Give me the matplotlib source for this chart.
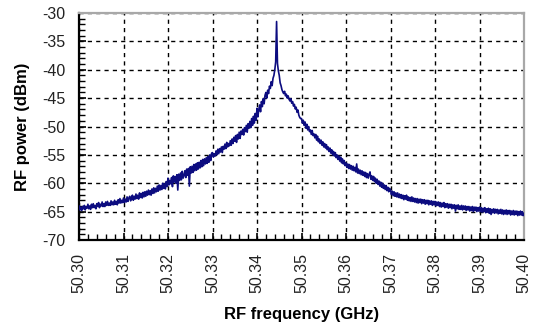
#!/usr/bin/env python3
"""RF spectrum around 50.344 GHz, redrawn from a screenshot."""
import numpy as np
import matplotlib
matplotlib.use('Agg')
import matplotlib.pyplot as plt
from matplotlib.ticker import MultipleLocator, FormatStrFormatter

plt.rcParams['font.family'] = ['Liberation Sans', 'DejaVu Sans']
plt.rcParams['axes.unicode_minus'] = False

# sweep: 50.300 .. 50.400 GHz, one point every 0.2 MHz
f_start = 50.300
f_step = 0.0002

# RF power (dBm), one list per 10 MHz (50 points each)
p_5030 = [-64.0, -64.7, -64.2, -64.8, -64.1, -64.5, -63.9, -64.7, -64.1, -64.4,
          -63.7, -64.5, -64.0, -64.6, -63.7, -64.3, -63.6, -64.3, -63.9, -64.5,
          -63.6, -64.1, -63.4, -64.3, -63.7, -64.0, -63.3, -64.1, -63.6, -64.1,
          -63.3, -63.9, -63.2, -63.9, -63.5, -63.9, -63.1, -63.8, -63.3, -63.8,
          -63.0, -63.7, -63.2, -63.8, -62.9, -63.5, -62.7, -63.5, -63.0, -63.4]
p_5031 = [-62.6, -63.4, -62.8, -63.3, -62.4, -63.2, -62.6, -62.3, -63.1, -62.5,
          -62.1, -63.0, -62.3, -62.8, -61.9, -62.7, -62.1, -62.8, -61.7, -62.5,
          -61.8, -62.6, -61.6, -62.4, -61.5, -62.3, -61.4, -62.1, -61.2, -62.0,
          -61.3, -62.1, -61.0, -61.8, -60.8, -61.7, -60.9, -61.5, -60.5, -61.4,
          -60.3, -61.2, -60.4, -61.1, -60.0, -60.9, -60.1, -61.0, -59.7, -60.6]
p_5032 = [-59.1, -60.3, -59.5, -60.1, -59.0, -60.6, -58.7, -59.8, -58.8, -60.0,
          -58.5, -61.2, -58.4, -59.5, -58.2, -59.4, -57.9, -59.1, -58.6, -57.8,
          -59.0, -57.5, -58.6, -57.4, -60.5, -57.1, -58.2, -57.0, -58.1, -56.7,
          -57.8, -56.6, -57.7, -56.4, -57.5, -56.3, -57.3, -56.0, -57.1, -55.8,
          -56.9, -55.7, -56.6, -55.5, -56.5, -55.3, -56.3, -55.0, -56.0, -54.7]
p_5033 = [-54.6, -55.4, -54.8, -55.2, -54.3, -55.0, -54.0, -54.8, -53.9, -54.5,
          -53.6, -54.6, -53.5, -54.0, -53.1, -53.9, -52.8, -53.6, -53.0, -53.4,
          -52.5, -53.3, -52.2, -53.0, -51.9, -52.6, -51.6, -52.8, -51.4, -52.2,
          -51.0, -52.1, -50.8, -51.4, -50.5, -51.5, -50.2, -50.9, -49.8, -51.0,
          -49.5, -50.3, -49.1, -50.2, -48.6, -49.8, -48.2, -49.4, -47.7, -48.9]
p_5034 = [-46.8, -48.3, -47.0, -46.2, -47.4, -45.6, -46.5, -45.1, -46.0, -44.5,
          -44.0, -45.0, -43.6, -44.2, -42.9, -43.3, -42.1, -42.8, -41.5, -41.0,
          -40.0, -38.6, -31.5, -38.9, -40.2, -41.0, -42.3, -42.8, -43.5, -43.9,
          -44.2, -43.8, -44.6, -44.3, -45.0, -44.6, -45.2, -45.5, -45.1, -45.9,
          -45.6, -46.4, -46.1, -46.9, -46.6, -47.5, -47.1, -48.0, -48.4, -48.6]
p_5035 = [-48.6, -49.4, -48.9, -49.8, -49.2, -50.3, -49.6, -50.6, -50.0, -50.9,
          -50.6, -51.4, -50.7, -51.6, -51.3, -52.0, -51.4, -52.4, -51.7, -52.7,
          -52.2, -53.0, -52.4, -53.3, -52.7, -53.6, -53.0, -53.8, -53.2, -54.1,
          -53.6, -54.4, -53.8, -54.7, -54.1, -55.0, -54.4, -55.2, -54.6, -55.5,
          -55.0, -55.8, -55.2, -56.1, -55.4, -56.4, -55.7, -56.6, -56.0, -56.9]
p_5036 = [-56.4, -57.2, -56.6, -57.4, -56.7, -57.5, -56.9, -57.7, -57.0, -57.8,
          -57.2, -58.0, -56.6, -58.2, -57.5, -58.3, -57.7, -58.5, -57.8, -58.6,
          -58.0, -58.8, -58.1, -59.0, -58.3, -59.1, -58.4, -58.0, -59.3, -58.7,
          -59.5, -58.8, -59.7, -59.1, -60.0, -59.3, -60.2, -59.6, -60.5, -59.8,
          -60.7, -60.0, -60.9, -60.3, -61.1, -60.4, -61.3, -60.7, -61.5, -60.9]
p_5037 = [-61.2, -62.0, -61.4, -62.2, -61.5, -62.3, -61.7, -62.4, -61.7, -62.5,
          -61.9, -62.6, -62.0, -62.7, -62.1, -62.9, -62.2, -62.8, -62.1, -63.0,
          -62.4, -63.1, -62.5, -63.2, -62.4, -63.2, -62.6, -63.3, -62.7, -63.4,
          -62.7, -63.5, -62.8, -63.4, -62.8, -63.6, -62.9, -63.5, -62.9, -63.7,
          -63.0, -63.6, -63.0, -63.8, -63.1, -63.7, -63.1, -63.9, -63.2, -63.8]
p_5038 = [-63.2, -64.0, -63.3, -63.9, -63.3, -64.1, -63.4, -64.2, -63.5, -64.1,
          -63.4, -64.3, -63.6, -64.2, -63.6, -64.4, -63.7, -64.3, -63.7, -64.5,
          -63.8, -64.4, -63.8, -64.9, -63.9, -64.5, -63.8, -64.6, -64.0, -64.6,
          -63.9, -64.7, -64.0, -64.6, -64.0, -64.8, -64.1, -64.7, -64.1, -64.9,
          -64.2, -64.8, -64.1, -65.0, -64.2, -64.8, -64.2, -65.0, -64.3, -64.9]
p_5039 = [-64.2, -65.0, -64.3, -65.1, -64.4, -65.0, -64.3, -65.2, -64.5, -65.1,
          -64.4, -65.3, -64.5, -65.5, -64.6, -65.2, -64.5, -65.3, -64.6, -65.2,
          -64.6, -65.4, -64.7, -65.3, -64.6, -65.4, -64.7, -65.5, -64.8, -65.4,
          -64.7, -65.5, -64.8, -65.4, -64.8, -65.6, -64.9, -65.5, -64.8, -65.6,
          -64.9, -65.5, -64.9, -65.7, -65.0, -65.6, -64.9, -65.6, -65.0, -65.7]
p_5040 = [-65.3]

rows = [p_5030, p_5031, p_5032, p_5033, p_5034, p_5035,
        p_5036, p_5037, p_5038, p_5039]
print('row lengths', [len(r) for r in rows])
power = np.array(sum(rows, []) + p_5040)
freq = f_start + f_step * np.arange(len(power))

fig = plt.figure(figsize=(5.36, 3.28), dpi=100)
ax = fig.add_axes([79 / 536, 1 - 240 / 328, 445 / 536, 227 / 328])

ax.plot(freq, power, color='#0c0c80', lw=1.2, zorder=3)

ax.set_xlim(50.30, 50.40)
ax.set_ylim(-70, -30)
ax.xaxis.set_major_locator(MultipleLocator(0.01))
ax.xaxis.set_minor_locator(MultipleLocator(0.002))
ax.yaxis.set_major_locator(MultipleLocator(5))
ax.yaxis.set_minor_locator(MultipleLocator(1))
ax.xaxis.set_major_formatter(FormatStrFormatter('%.2f'))

ax.grid(True, which='major', color='black', lw=1.0, linestyle=(0, (3, 3)))
ax.tick_params(which='both', direction='in', top=False, right=False,
               colors='black', labelcolor='#222222', labelsize=11.5)
ax.tick_params(which='major', length=5, width=1.2)
ax.tick_params(which='minor', length=4, width=1.0)
ax.tick_params(axis='x', which='major', pad=9.5, labelrotation=90)
ax.tick_params(axis='y', which='major', pad=10)

for side in ('left', 'bottom'):
    ax.spines[side].set_color('black')
    ax.spines[side].set_linewidth(1.6)
for side in ('top', 'right'):
    ax.spines[side].set_color('#a8a8a8')
    ax.spines[side].set_linewidth(1.6)

ax.set_xlabel('RF frequency (GHz)', fontsize=12, fontweight='bold')
ax.set_ylabel('RF power (dBm)', fontsize=12, fontweight='bold')
ax.xaxis.set_label_coords(0.5, -0.295)
ax.yaxis.set_label_coords(-0.11, 0.5)

fig.savefig('out.png', dpi=100)
print('Wrote out.png')
